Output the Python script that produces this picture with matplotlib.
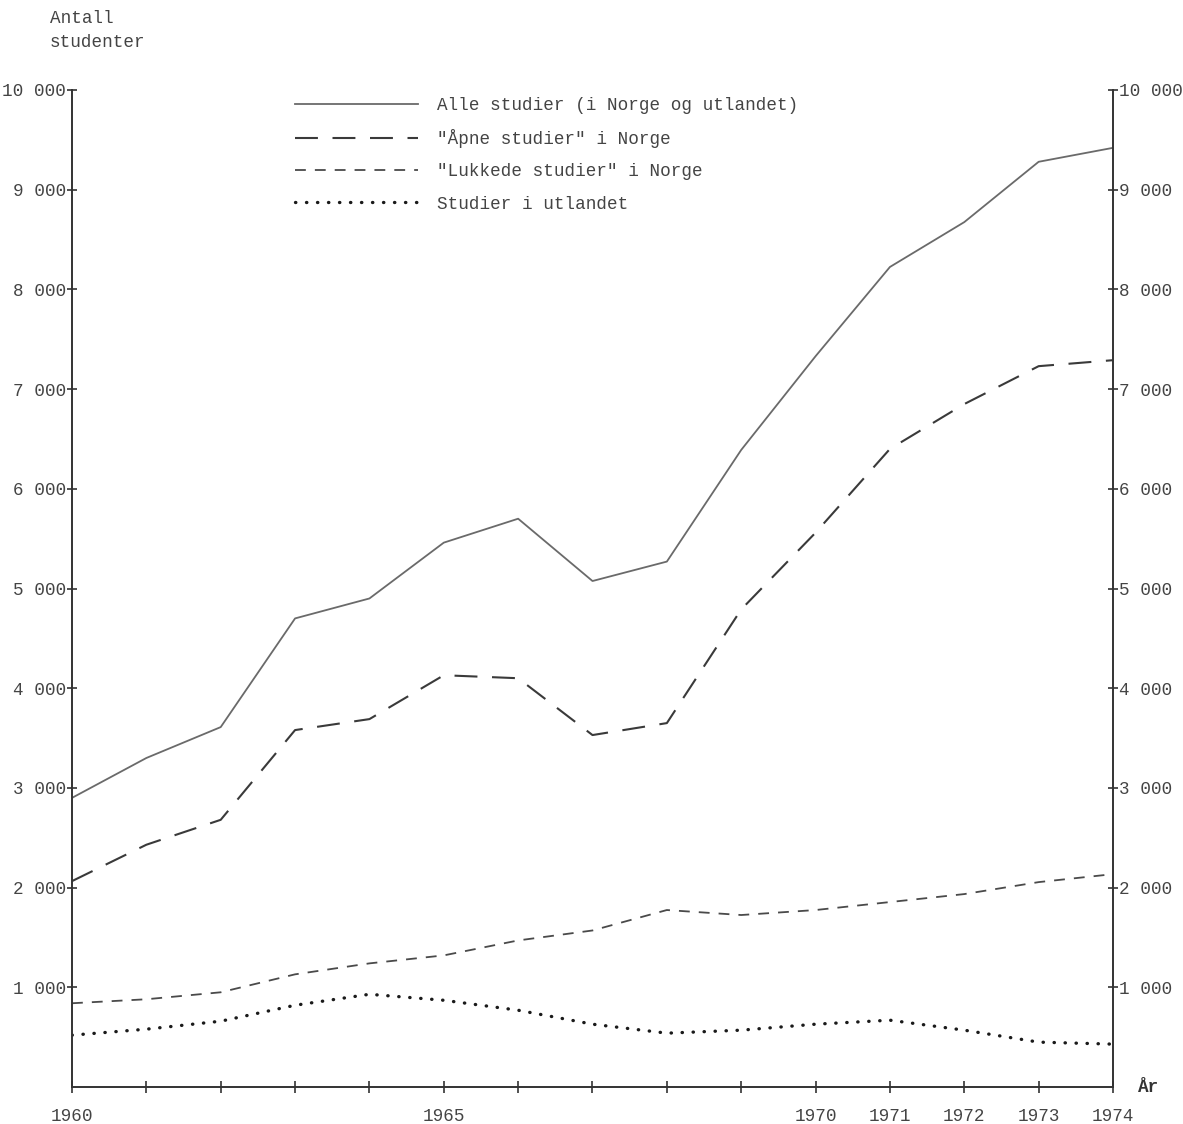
import numpy as np
import matplotlib.pyplot as plt

# Antall studenter 1960-1974
years = np.arange(1960, 1975)
alle = [2900, 3300, 3610, 4700, 4900, 5460, 5700, 5075, 5270, 6390, 7330, 8225, 8675, 9280, 9420]
apne = [2065, 2430, 2680, 3580, 3690, 4130, 4100, 3530, 3650, 4790, 5560, 6400, 6850, 7230, 7290]
lukkede = [840, 880, 950, 1130, 1240, 1320, 1470, 1570, 1775, 1725, 1775, 1855, 1935, 2055, 2135]
utland = [520, 580, 660, 820, 930, 870, 770, 630, 540, 570, 630, 670, 570, 450, 430]

labels = ['Alle studier (i Norge og utlandet)', '"Åpne studier" i Norge',
          '"Lukkede studier" i Norge', 'Studier i utlandet']
year_labels = {1960: '1960', 1965: '1965', 1970: '1970', 1971: '1971',
               1972: '1972', 1973: '1973', 1974: '1974'}
yticks = np.arange(1000, 10001, 1000)

font = 'Liberation Mono'
fs = 12.7
txt = '#444444'

fig = plt.figure(figsize=(11.83, 11.24), dpi=100)
W, H = 1183, 1124
ax = fig.add_axes([72 / W, 1 - 1087 / H, (1113 - 72) / W, (1087 - 90) / H])

ax.plot(years, alle, color='#6a6a6a', lw=1.3, label=labels[0])
ax.plot(years, apne, color='#3a3a3a', lw=1.5, dashes=(11, 7), label=labels[1])
ax.plot(years, lukkede, color='#4a4a4a', lw=1.3, dashes=(6, 5), label=labels[2])
ax.plot(years, utland, color='#1a1a1a', lw=2.4, dashes=(0.1, 3.2),
        dash_capstyle='round', label=labels[3])

ax.set_xlim(1960, 1974)
ax.set_ylim(0, 10000)
ax.spines['top'].set_visible(False)
for s in ['left', 'right', 'bottom']:
    ax.spines[s].set_color('#333333')
    ax.spines[s].set_linewidth(1.4)

ax.set_xticks(years)
ax.set_xticklabels([year_labels.get(y, '') for y in years], fontfamily=font,
                   fontsize=fs, color=txt)
ax.tick_params(axis='x', direction='inout', length=8, width=1.2, pad=11, colors='#333333')
ax.tick_params(axis='x', labelcolor=txt)

ax.set_yticks(yticks)
ax.set_yticklabels([f'{v // 1000} 000' for v in yticks], fontfamily=font,
                   fontsize=fs, color=txt)
ax.tick_params(axis='y', direction='inout', length=7, width=1.2, pad=1,
               left=True, right=True, labelleft=True, labelright=True,
               colors='#333333', labelcolor=txt)

ax.text(1974.33, 0, 'År', fontfamily=font, fontsize=fs, color='#333333', va='center',
        ha='left', fontweight='bold')
fig.text(50 / W, 1 - 10 / H, 'Antall\nstudenter', fontfamily=font, fontsize=fs,
         color=txt, va='top', ha='left', linespacing=1.55)

leg = ax.legend(loc='upper left', bbox_to_anchor=(295 / W, 1 - 97 / H),
                bbox_transform=fig.transFigure, frameon=False, borderpad=0,
                borderaxespad=0, handlelength=7.0, handletextpad=1.05,
                labelspacing=0.86, prop={'family': font, 'size': fs})
for t in leg.get_texts():
    t.set_color(txt)

fig.savefig('out.png', dpi=100, facecolor='white')
